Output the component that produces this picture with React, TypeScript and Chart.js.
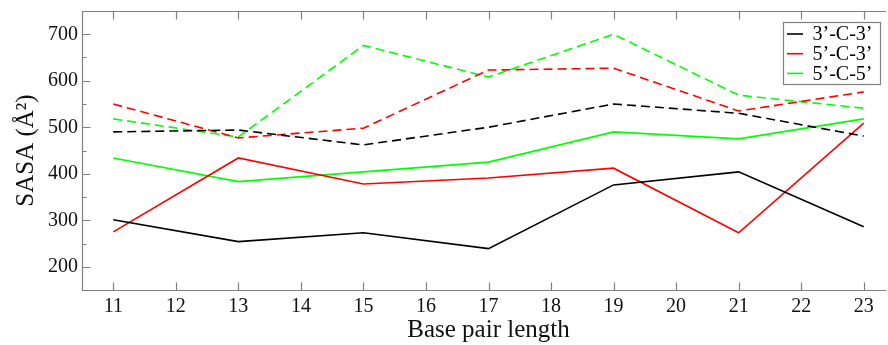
import React, { useEffect, useRef } from "react";
import { Chart, registerables } from "chart.js";

Chart.register(...registerables);

// ---- data ----
const basePairs = [11, 13, 15, 17, 19, 21, 23];
const c33Solid = [301, 254, 273, 239, 376, 404, 286];
const c53Solid = [275, 434, 378, 391, 412, 273, 509];
const c55Solid = [434, 383, 404, 425, 490, 475, 518];
const c33Dashed = [490, 494, 462, 500, 550, 530, 481];
const c53Dashed = [550, 477, 498, 623, 627, 535, 576];
const c55Dashed = [518, 479, 676, 608, 700, 569, 541];
const legendLabels = ["3\u2019-C-3\u2019", "5\u2019-C-3\u2019", "5\u2019-C-5\u2019"];
const seriesColors = ["#000000", "#ff0000", "#00ff00"];
const xTickValues = [11, 12, 13, 14, 15, 16, 17, 18, 19, 20, 21, 22, 23];
const yTickValues = [200, 300, 400, 500, 600, 700];
const yMinorValues = [250, 350, 450, 550, 650];
const xTitle = "Base pair length";
const yTitle = "SASA (\u00C5\u00B2)";

const FONT = "'Liberation Serif', 'DejaVu Serif', serif";
const FRAME = "#808080";

const framePlugin = {
  id: "frameTicks",
  afterDatasetsDraw(chart: any) {
    const { ctx, chartArea } = chart;
    const xs = chart.scales.x;
    const ys = chart.scales.y;
    const l = Math.round(chartArea.left) + 0.5;
    const r = Math.round(chartArea.right) + 0.5;
    const t = Math.round(chartArea.top) + 0.5;
    const b = Math.round(chartArea.bottom) + 0.5;
    ctx.save();
    ctx.beginPath();
    ctx.rect(0, 0, 886, chart.height);
    ctx.clip();
    ctx.strokeStyle = FRAME;
    ctx.lineWidth = 1.2;
    ctx.setLineDash([]);
    ctx.beginPath();
    ctx.moveTo(r, t);
    ctx.lineTo(l, t);
    ctx.lineTo(l, b);
    ctx.lineTo(r, b);
    ctx.stroke();
    ctx.beginPath();
    xTickValues.forEach((v) => {
      const px = Math.round(xs.getPixelForValue(v)) + 0.5;
      ctx.moveTo(px, b);
      ctx.lineTo(px, b - 8);
      ctx.moveTo(px, t);
      ctx.lineTo(px, t + 8);
    });
    yTickValues.forEach((v) => {
      const py = Math.round(ys.getPixelForValue(v)) + 0.5;
      ctx.moveTo(l, py);
      ctx.lineTo(l + 8, py);
    });
    yMinorValues.forEach((v) => {
      const py = Math.round(ys.getPixelForValue(v)) + 0.5;
      ctx.moveTo(l, py);
      ctx.lineTo(l + 4, py);
    });
    ctx.stroke();

    // legend
    const bx = 783.5, by = 22.5, bw = 97, bh = 62;
    ctx.fillStyle = "#ffffff";
    ctx.fillRect(bx, by, bw, bh);
    ctx.strokeStyle = FRAME;
    ctx.lineWidth = 1.2;
    ctx.strokeRect(bx, by, bw, bh);
    ctx.font = `20px ${FONT}`;
    ctx.textBaseline = "middle";
    ctx.textAlign = "left";
    legendLabels.forEach((lab, i) => {
      const y = 34 + i * 19.7;
      ctx.strokeStyle = seriesColors[i];
      ctx.lineWidth = 1.6;
      ctx.beginPath();
      ctx.moveTo(787, y);
      ctx.lineTo(803, y);
      ctx.stroke();
      ctx.fillStyle = "#000000";
      ctx.fillText(lab, 812.5, y + 1);
    });
    ctx.restore();
  },
};

function makeDs(data: number[], color: string, dashed: boolean, label: string) {
  return {
    label,
    data: basePairs.map((x, i) => ({ x, y: data[i] })),
    borderColor: color,
    backgroundColor: color,
    borderWidth: 1.6,
    borderDash: dashed ? [9, 5] : [],
    pointRadius: 0,
    fill: false,
    tension: 0,
  };
}

export default function App() {
  const ref = useRef<HTMLCanvasElement>(null);
  useEffect(() => {
    if (!ref.current) return;
    const chart = new Chart(ref.current, {
      type: "line",
      data: {
        datasets: [
          makeDs(c33Dashed, seriesColors[0], true, "3-3 d"),
          makeDs(c53Dashed, seriesColors[1], true, "5-3 d"),
          makeDs(c55Dashed, seriesColors[2], true, "5-5 d"),
          makeDs(c33Solid, seriesColors[0], false, legendLabels[0]),
          makeDs(c53Solid, seriesColors[1], false, legendLabels[1]),
          makeDs(c55Solid, seriesColors[2], false, legendLabels[2]),
        ],
      },
      options: {
        responsive: false,
        animation: false,
        devicePixelRatio: 1,
        layout: { padding: { left: 0, top: 11, right: 5, bottom: 0 } },
        plugins: { legend: { display: false }, tooltip: { enabled: false } },
        scales: {
          x: {
            type: "linear",
            min: 10.5,
            max: 23.5,
            grid: { display: false, drawTicks: false },
            border: { display: false },
            ticks: {
              stepSize: 1,
              color: "#111",
              font: { family: FONT, size: 20, lineHeight: 1 },
              padding: 7,
              maxRotation: 0,
              autoSkip: false,
            },
            title: {
              display: true,
              text: xTitle,
              color: "#111",
              font: { family: FONT, size: 25, lineHeight: 1.2 },
              padding: { top: 0, bottom: 0 },
            },
            afterBuildTicks: (s: any) => {
              s.ticks = xTickValues.map((v) => ({ value: v }));
            },
            afterFit: (s: any) => {
              s.height = 55;
              s.paddingLeft = 0;
              s.paddingRight = 0;
            },
          },
          y: {
            type: "linear",
            min: 150,
            max: 750,
            grid: { display: false, drawTicks: false },
            border: { display: false },
            ticks: {
              stepSize: 100,
              color: "#111",
              font: { family: FONT, size: 20, lineHeight: 1 },
              padding: 4,
            },
            title: {
              display: true,
              text: yTitle,
              color: "#111",
              font: { family: FONT, size: 25, lineHeight: 1.2 },
              padding: { top: 11, bottom: 0 },
            },
            afterBuildTicks: (s: any) => {
              s.ticks = yTickValues.map((v) => ({ value: v }));
            },
            afterFit: (s: any) => {
              s.width = 82;
              s.paddingTop = 0;
              s.paddingBottom = 0;
            },
          },
        },
      },
      plugins: [framePlugin],
    } as any);
    return () => chart.destroy();
  }, []);
  return (
    <div
      style={{
        position: "fixed",
        left: 0,
        top: 0,
        width: 888,
        height: 345,
        overflow: "hidden",
        background: "#fff",
      }}
    >
      <canvas ref={ref} width={900} height={345} style={{ display: "block" }} />
    </div>
  );
}
